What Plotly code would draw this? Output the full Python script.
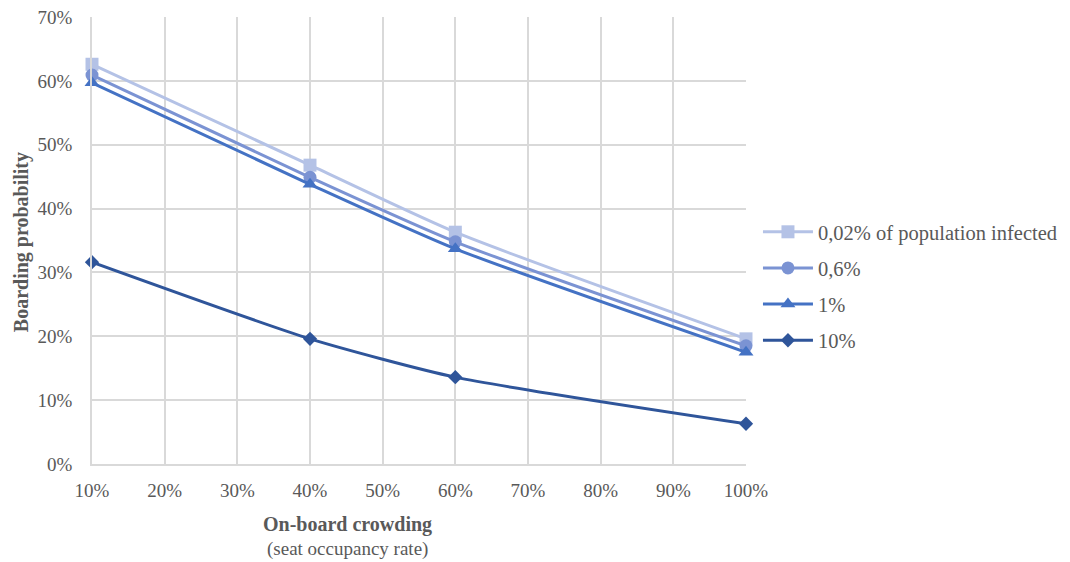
import plotly.graph_objects as go

occupancy = [10, 40, 60, 100]
series_names = ["0,02% of population infected", "0,6%", "1%", "10%"]
p_002 = [62.6, 46.8, 36.3, 19.6]
p_06 = [60.9, 44.9, 34.8, 18.5]
p_1 = [59.7, 43.8, 33.7, 17.5]
p_10 = [31.6, 19.6, 13.6, 6.3]

colors = ["#B4C2E6", "#7B93D3", "#4472C4", "#2F559A"]
symbols = ["square", "circle", "triangle-up", "diamond"]
sizes = [13, 13, 13, 11]
values = [p_002, p_06, p_1, p_10]

FONT = "Liberation Serif, Times New Roman, serif"
GREY = "#595959"

fig = go.Figure()
for i, (name, vals) in enumerate(zip(series_names, values)):
    fig.add_trace(go.Scatter(
        x=occupancy, y=vals, name=name, mode="lines+markers",
        line=dict(color=colors[i], width=3, shape="spline", smoothing=0.6),
        marker=dict(symbol=symbols[i], size=sizes[i], color=colors[i]),
        legendgroup=f"g{i}", cliponaxis=False,
    ))

fig.update_layout(
    width=1070, height=562,
    margin=dict(l=84, r=332, t=9, b=106),
    plot_bgcolor="white", paper_bgcolor="white",
    font=dict(family=FONT, size=19, color=GREY),
    legend=dict(xref="container", yref="container", x=0.7009, y=0.5045,
                xanchor="left", yanchor="middle",
                font=dict(family=FONT, size=20.5, color=GREY),
                tracegroupgap=6.5, traceorder="grouped", itemwidth=50),
    xaxis=dict(range=[10, 100], tickvals=[10, 20, 30, 40, 50, 60, 70, 80, 90, 100],
               ticktext=[f"{v}%" for v in range(10, 101, 10)],
               showgrid=True, gridcolor="#D9D9D9", gridwidth=1.5,
               showline=True, linecolor="#D9D9D9", linewidth=1.5,
               zeroline=False, ticks="", ticklabelstandoff=8,
               automargin=False, ticklabeloverflow="allow"),
    yaxis=dict(range=[0, 70], tickvals=list(range(0, 71, 10)),
               ticktext=[f"{v}%" for v in range(0, 71, 10)],
               showgrid=True, gridcolor="#D9D9D9", gridwidth=1.5,
               showline=True, linecolor="#D9D9D9", linewidth=1.5,
               zeroline=False, ticks="", ticklabelstandoff=14,
               automargin=False, ticklabeloverflow="allow"),
    annotations=[
        dict(text="<b>On-board crowding</b>", xref="paper", yref="paper",
             x=0.391, y=-0.135, xanchor="center", yanchor="middle",
             showarrow=False, font=dict(family=FONT, size=20, color=GREY)),
        dict(text="(seat occupancy rate)", xref="paper", yref="paper",
             x=0.391, y=-0.19, xanchor="center", yanchor="middle",
             showarrow=False, font=dict(family=FONT, size=19, color=GREY)),
        dict(text="<b>Boarding probability</b>", xref="paper", yref="paper",
             x=-0.108, y=0.497, xanchor="center", yanchor="middle", textangle=-90,
             showarrow=False, font=dict(family=FONT, size=20, color=GREY)),
    ],
)

fig.write_html("out.html")
